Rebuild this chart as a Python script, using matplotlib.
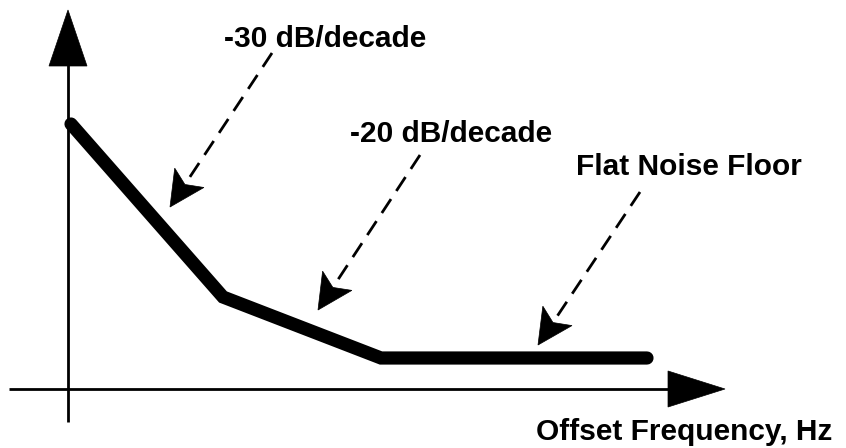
import numpy as np
import matplotlib
matplotlib.use("Agg")
import matplotlib.pyplot as plt
from matplotlib.patches import Polygon

plt.rcParams['lines.scale_dashes'] = False

# ---- data (diagram coordinates, pixel-like units, y downward) ----
curve_x = [71, 223, 381, 647]
curve_y = [124, 297, 358, 358]

label_texts = ["-30 dB/decade", "-20 dB/decade", "Flat Noise Floor"]
label_x = [325.5, 451.5, 689]
label_y = [47, 142, 175]
arrow_start_x = [272, 420, 640]
arrow_start_y = [53, 155, 192]
arrow_tip_x = [170, 318, 538]
arrow_tip_y = [207, 310, 345]

xaxis_label = "Offset Frequency, Hz"
xaxis_label_pos = (684.5, 440)
origin = (68, 389)
yaxis_range = (422, 10)   # bottom, tip
xaxis_range = (9, 725)    # left, tip

W, H = 846, 448
fig = plt.figure(figsize=(W / 100, H / 100), dpi=100)
ax = fig.add_axes([0, 0, 1, 1])
ax.set_xlim(0, W)
ax.set_ylim(H, 0)
ax.axis('off')

FONT = dict(family=['Liberation Sans', 'DejaVu Sans'], weight='bold', size=21.5)


def head(tip, direction, length, half_w, notch=0.0):
    tip = np.asarray(tip, float)
    u = np.asarray(direction, float)
    u = u / np.linalg.norm(u)
    p = np.array([-u[1], u[0]])
    back = tip - length * u
    pts = [tip, back + half_w * p, tip - (length - notch) * u, back - half_w * p]
    return np.array(pts), tip - (length - notch) * u


# axes
ax.plot([origin[0], origin[0]], [yaxis_range[0], yaxis_range[1] + 40], color='black', lw=2, solid_capstyle='butt')
ax.plot([xaxis_range[0], xaxis_range[1] - 40], [origin[1], origin[1]], color='black', lw=2, solid_capstyle='butt')
pts, _ = head((origin[0], yaxis_range[1]), (0, -1), 56, 19)
ax.add_patch(Polygon(pts, closed=True, facecolor='black', edgecolor='black', lw=0.5))
pts, _ = head((xaxis_range[1], origin[1]), (1, 0), 57, 18)
ax.add_patch(Polygon(pts, closed=True, facecolor='black', edgecolor='black', lw=0.5))

# curve
ax.plot(curve_x, curve_y, color='black', lw=9.5, solid_capstyle='round', solid_joinstyle='miter')

# annotations
for t, lx, ly, sx, sy, tx, ty in zip(label_texts, label_x, label_y,
                                     arrow_start_x, arrow_start_y, arrow_tip_x, arrow_tip_y):
    ax.text(lx, ly, t, ha='center', va='baseline', **FONT)
    pts, notch_pt = head((tx, ty), (tx - sx, ty - sy), 35, 17.5, notch=8)
    ax.plot([sx, notch_pt[0]], [sy, notch_pt[1]], color='black', lw=2.0,
            linestyle=(0, (12, 7)), dash_capstyle='butt')
    ax.add_patch(Polygon(pts, closed=True, facecolor='black', edgecolor='black', lw=0.5))

ax.text(xaxis_label_pos[0], xaxis_label_pos[1], xaxis_label, ha='center', va='baseline', **FONT)

fig.savefig("out.png", dpi=100, facecolor='white')
